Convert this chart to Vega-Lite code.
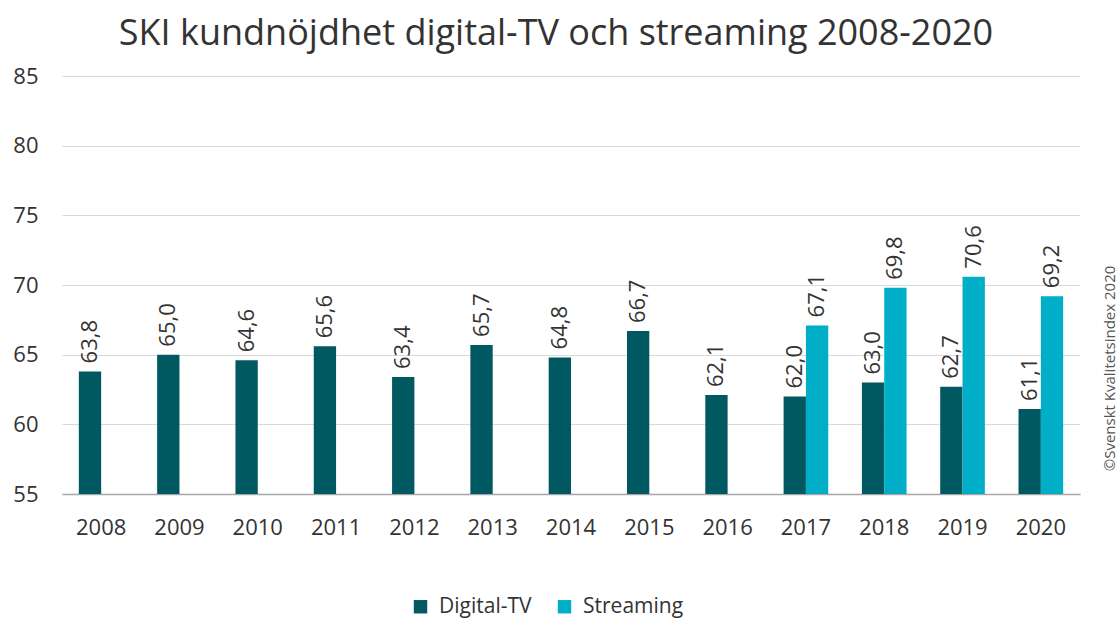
{
  "$schema": "https://vega.github.io/schema/vega-lite/v6.json",
  "autosize": {"type": "none"},
  "width": 1018,
  "height": 418,
  "padding": {"left": 62, "top": 76, "right": 38, "bottom": 124},
  "background": "white",
  "title": {
    "text": "SKI kundnöjdhet digital-TV och streaming 2008-2020",
    "font": "Open Sans",
    "fontSize": 36,
    "fontWeight": "normal",
    "color": "#333333",
    "anchor": "middle",
    "dx": -15,
    "offset": 12
  },
  "data": {
    "values": [
      {"year": "2008", "series": "Digital-TV", "value": 63.8},
      {"year": "2009", "series": "Digital-TV", "value": 65.0},
      {"year": "2010", "series": "Digital-TV", "value": 64.6},
      {"year": "2011", "series": "Digital-TV", "value": 65.6},
      {"year": "2012", "series": "Digital-TV", "value": 63.4},
      {"year": "2013", "series": "Digital-TV", "value": 65.7},
      {"year": "2014", "series": "Digital-TV", "value": 64.8},
      {"year": "2015", "series": "Digital-TV", "value": 66.7},
      {"year": "2016", "series": "Digital-TV", "value": 62.1},
      {"year": "2017", "series": "Digital-TV", "value": 62.0},
      {"year": "2018", "series": "Digital-TV", "value": 63.0},
      {"year": "2019", "series": "Digital-TV", "value": 62.7},
      {"year": "2020", "series": "Digital-TV", "value": 61.1},
      {"year": "2017", "series": "Streaming", "value": 67.1},
      {"year": "2018", "series": "Streaming", "value": 69.8},
      {"year": "2019", "series": "Streaming", "value": 70.6},
      {"year": "2020", "series": "Streaming", "value": 69.2}
    ]
  },
  "encoding": {
    "x": {
      "field": "year",
      "type": "nominal",
      "scale": {"paddingInner": 0.43, "paddingOuter": 0.215},
      "axis": {
        "title": null,
        "labelAngle": 0,
        "ticks": false,
        "labelFont": "Open Sans",
        "labelFontSize": 22,
        "labelColor": "#333333",
        "labelPadding": 23,
        "domainColor": "#a6a6a6",
        "domainWidth": 1.5,
        "grid": false
      }
    },
    "xOffset": {
      "field": "series",
      "type": "nominal",
      "scale": {"domain": ["Digital-TV", "Streaming"], "paddingInner": 0}
    },
    "y": {
      "field": "value",
      "type": "quantitative",
      "scale": {"domain": [55, 85], "zero": false, "nice": false}
    }
  },
  "layer": [
    {
      "mark": {"type": "bar"},
      "encoding": {
        "y": {
          "field": "value",
          "type": "quantitative",
          "scale": {"domain": [55, 85], "zero": false, "nice": false},
          "axis": {
            "title": null,
            "orient": "left",
            "values": [55, 60, 65, 70, 75, 80, 85],
            "ticks": false,
            "domain": false,
            "labelFont": "Open Sans",
            "labelFontSize": 22,
            "labelColor": "#333333",
            "labelPadding": 24,
            "gridColor": "#d9d9d9",
            "gridWidth": 1.2
          }
        },
        "y2": {"datum": 55},
        "color": {
          "field": "series",
          "type": "nominal",
          "scale": {"domain": ["Digital-TV", "Streaming"], "range": ["#005860", "#00AEC7"]},
          "legend": {
            "title": null,
            "orient": "none",
            "legendX": 348,
            "legendY": 520,
            "direction": "horizontal",
            "symbolType": "square",
            "symbolSize": 180,
            "symbolStrokeWidth": 0,
            "labelFont": "Open Sans",
            "labelFontSize": 21,
            "labelColor": "#333333",
            "columnPadding": 22,
            "labelOffset": 8
          }
        }
      }
    },
    {
      "mark": {
        "type": "text",
        "angle": 270,
        "align": "left",
        "baseline": "middle",
        "dx": 8,
        "font": "Open Sans",
        "fontSize": 22,
        "color": "#333333"
      },
      "encoding": {
        "y": {
          "field": "value",
          "type": "quantitative",
          "scale": {"domain": [55, 85], "zero": false, "nice": false},
          "axis": {
            "orient": "right",
            "title": "©Svenskt Kvalitetsindex 2020",
            "titleAngle": 270,
            "titleFont": "Open Sans",
            "titleFontSize": 15,
            "titleFontWeight": "normal",
            "titleColor": "#555555",
            "titleAlign": "center",
            "titleBaseline": "middle",
            "titleY": 292,
            "titleX": 29,
            "labels": false,
            "ticks": false,
            "domain": false,
            "grid": false
          }
        },
        "text": {"field": "value", "type": "quantitative", "format": ".1f"}
      }
    }
  ],
  "resolve": {"axis": {"y": "independent"}},
  "config": {
    "view": {"stroke": null},
    "locale": {
      "number": {"decimal": ",", "thousands": " ", "grouping": [3], "currency": ["", " kr"]}
    }
  }
}
